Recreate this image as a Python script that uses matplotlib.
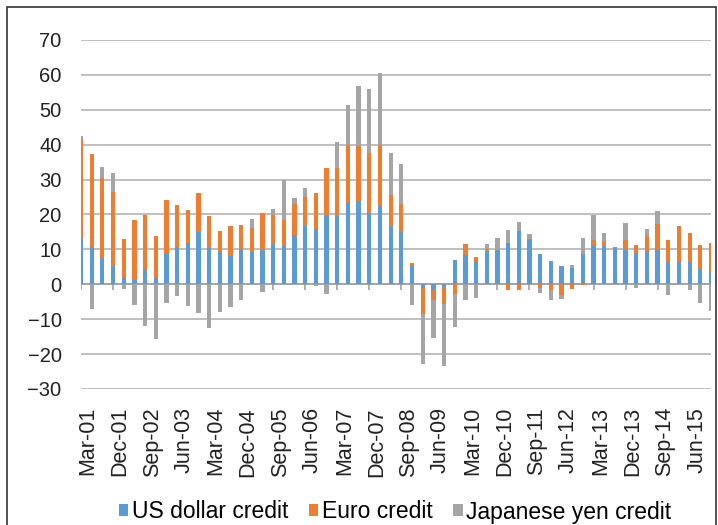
import numpy as np
import matplotlib.pyplot as plt
from matplotlib.patches import Rectangle
import matplotlib.transforms as mtransforms

plt.rcParams['font.family'] = ['Liberation Sans', 'DejaVu Sans']

# quarterly periods Mar-01 .. Dec-15
months = ['Mar', 'Jun', 'Sep', 'Dec']
quarters = [f"{m}-{y:02d}" for y in range(1, 16) for m in months]

usd = [13.4, 10.7, 7.6, 5.3, 1.9, 1.3, 4.2, 1.9, 8.7, 10.7,
       11.7, 15.0, 10.4, 9.2, 8.2, 9.9, 9.3, 9.9, 11.6, 11.0,
       14.0, 16.7, 15.8, 19.9, 19.6, 23.3, 24.0, 20.3, 22.3, 16.7,
       14.9, 5.2, -1.1, -1.5, -0.8, 6.9, 8.3, 6.4, 9.3, 9.9,
       11.8, 15.2, 12.6, 8.7, 6.7, 5.3, 4.7, 8.6, 11.2, 11.0,
       10.4, 9.9, 9.0, 9.3, 9.9, 6.4, 6.4, 6.4, 4.4, 3.4]
eur = [28.1, 26.5, 22.9, 21.1, 11.2, 17.0, 15.7, 11.9, 15.4, 11.9,
       9.5, 11.2, 9.3, 6.0, 8.4, 7.0, 6.8, 10.6, 8.3, 7.4,
       9.1, 8.3, 10.5, 13.4, 13.8, 16.6, 15.7, 17.2, 17.5, 8.9,
       8.1, 0.9, -7.3, -3.1, -4.9, -2.9, 3.2, 1.4, 0.7, 0.0,
       -1.7, -1.7, 0.3, -1.0, -1.7, -3.2, -1.3, -0.3, 1.6, 1.3,
       0.3, 2.7, 2.2, 4.5, 7.3, 6.2, 10.4, 8.4, 6.8, 8.3]
jpy = [0.9, -7.0, 3.0, 5.5, -1.3, -6.0, -12.0, -15.6, -5.3, -3.4,
       -6.3, -8.1, -12.4, -7.8, -6.5, -4.6, 2.5, -2.2, 1.6, 11.4,
       1.7, 2.7, -0.6, -2.9, 7.3, 11.6, 17.1, 18.6, 20.7, 11.9,
       11.4, -6.0, -14.3, -10.7, -17.8, -9.4, -4.4, -3.8, 1.5, 3.5,
       3.7, 2.6, 1.4, -1.5, -2.7, -1.0, 0.8, 4.8, 7.0, 2.5,
       0.0, 4.9, -1.0, 2.0, 3.7, -3.1, 0.0, -1.5, -5.3, -7.6]

series = [("US dollar credit", usd, '#5B9BD5'),
          ("Euro credit", eur, '#ED7D31'),
          ("Japanese yen credit", jpy, '#A5A5A5')]

fig = plt.figure(figsize=(7.18, 5.25), dpi=100)
ax = fig.add_axes([81 / 718, 1 - 389 / 525, 630 / 718, 349 / 525])

x = np.arange(len(quarters))
pos_bottom = np.zeros(len(x))
neg_bottom = np.zeros(len(x))
for name, vals, col in series:
    v = np.array(vals)
    p = np.clip(v, 0, None)
    n = np.clip(v, None, 0)
    ax.bar(x, p, 0.4, bottom=pos_bottom, color=col, label=name, zorder=3)
    ax.bar(x, n, 0.4, bottom=neg_bottom, color=col, zorder=3)
    pos_bottom += p
    neg_bottom += n

ax.set_xlim(0, len(x) - 1)
ax.set_ylim(-30, 70)
ax.set_yticks(range(-30, 80, 10))
ax.set_yticklabels([f"\u2212{abs(t)}" if t < 0 else str(t) for t in range(-30, 80, 10)])
ax.grid(axis='y', color='#B4B4B4', linewidth=1.2, zorder=0)
ax.axhline(0, color='#A0A0A0', linewidth=1.2, zorder=2)
ax.vlines(x[::3], -1.6, 0, color='#A0A0A0', linewidth=1.2, zorder=2)
for s in ax.spines.values():
    s.set_visible(False)

ax.set_xticks(x[::3])
ax.set_xticklabels(quarters[::3], rotation=90, va='top', ha='center')
ax.tick_params(axis='x', length=0, pad=13, labelsize=15.5, colors='#222222')
ax.tick_params(axis='y', length=0, pad=14, labelsize=14.5, colors='#222222')
shift = mtransforms.ScaledTranslation(7 / 100, 0, fig.dpi_scale_trans)
for lbl in ax.get_xticklabels():
    lbl.set_transform(lbl.get_transform() + shift)

fig.legend(loc='center', bbox_to_anchor=(0.55, 1 - 512 / 525), ncol=3,
           frameon=False, fontsize=16.5, handlelength=0.42, handleheight=0.42,
           handletextpad=0.15, columnspacing=0.9)

fig.patches.append(Rectangle((7 / 718, -0.01), 709 / 718, 1 - 7 / 525 + 0.01,
                             transform=fig.transFigure, fill=False,
                             edgecolor='#333333', linewidth=1.2))

fig.savefig('out.png', dpi=100)
